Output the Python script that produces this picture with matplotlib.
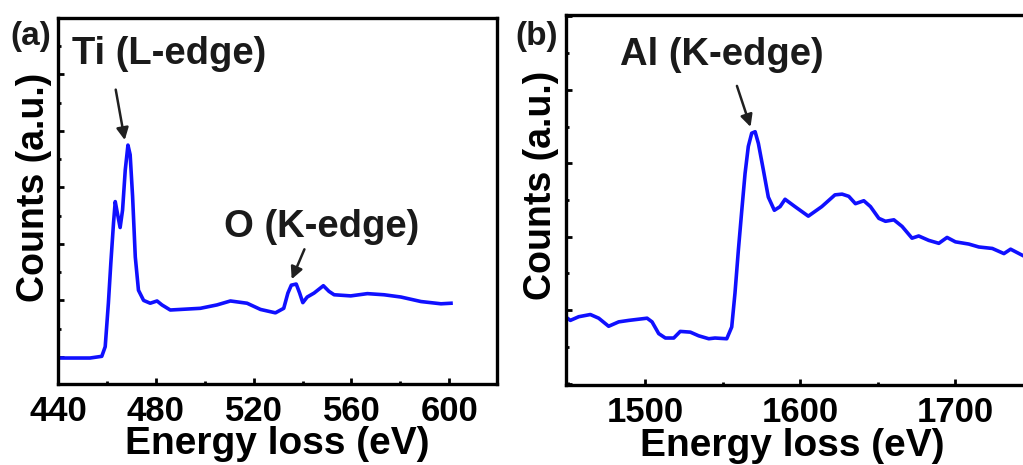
import matplotlib
matplotlib.use("Agg")
import matplotlib.pyplot as plt
from matplotlib.ticker import MultipleLocator

plt.rcParams['font.family'] = ['Liberation Sans', 'DejaVu Sans']
plt.rcParams['font.weight'] = 'bold'

# (a) Ti L-edge / O K-edge spectrum
ti_energy = [440.1, 453.1, 457.9, 459.3, 460.6, 461.6, 462.7, 463.4, 464.3, 465.4,
             466.4, 467.5, 468.6, 469.5, 470.5, 471.6, 472.9, 475.0, 477.7, 480.5,
             482.5, 485.9, 490.0, 498.2, 505.0, 510.5, 517.3, 522.8, 528.9, 532.3,
             534.0, 535.4, 537.4, 538.8, 540.1, 541.9, 544.7, 548.5, 550.8, 552.9,
             559.7, 566.5, 573.3, 580.2, 588.4, 596.6, 600.7]
ti_counts = [-0.02, -0.02, 0.01, 0.18, 0.95, 1.66, 2.37, 2.75, 2.54, 2.29,
             2.60, 3.31, 3.75, 3.58, 2.84, 1.77, 1.18, 1.00, 0.95, 0.99,
             0.92, 0.83, 0.84, 0.86, 0.92, 0.99, 0.95, 0.84, 0.78, 0.86,
             1.13, 1.27, 1.29, 1.13, 0.96, 1.06, 1.13, 1.26, 1.16, 1.10,
             1.08, 1.12, 1.10, 1.06, 0.98, 0.94, 0.95]

# (b) Al K-edge spectrum
al_energy = [1448.6, 1451.8, 1457.2, 1464.7, 1470.1, 1476.5, 1483.0, 1489.5, 1501.3, 1504.5,
             1508.8, 1513.1, 1518.5, 1522.7, 1529.2, 1534.6, 1541.1, 1545.1, 1552.7, 1555.9,
             1558.0, 1560.2, 1562.4, 1564.5, 1566.6, 1568.8, 1571.0, 1573.1, 1576.3, 1579.5,
             1583.4, 1587.1, 1590.3, 1596.7, 1605.3, 1614.0, 1622.5, 1627.1, 1631.4, 1635.7,
             1641.1, 1645.4, 1650.8, 1655.1, 1660.5, 1665.8, 1672.2, 1676.5, 1683.0, 1689.5,
             1694.8, 1700.2, 1708.8, 1715.3, 1724.0, 1731.5, 1735.8, 1744.0, 1750.0]
al_counts = [-0.09, -0.14, -0.09, -0.06, -0.11, -0.22, -0.16, -0.14, -0.11, -0.16,
             -0.32, -0.38, -0.38, -0.29, -0.30, -0.35, -0.39, -0.38, -0.39, -0.23,
             0.23, 0.82, 1.36, 1.86, 2.23, 2.41, 2.43, 2.27, 1.91, 1.54,
             1.36, 1.41, 1.51, 1.41, 1.28, 1.41, 1.57, 1.58, 1.55, 1.45,
             1.49, 1.41, 1.25, 1.21, 1.23, 1.14, 0.98, 1.01, 0.95, 0.91,
             0.99, 0.93, 0.90, 0.86, 0.84, 0.77, 0.83, 0.74, 0.70]

W, H = 1023, 465
fig = plt.figure(figsize=(W / 100, H / 100), dpi=100)


def frac(left, top, right, bottom):
    return [left / W, 1 - bottom / H, (right - left) / W, (bottom - top) / H]


ax1 = fig.add_axes(frac(58, 18, 497, 384))
ax2 = fig.add_axes(frac(566, 15, 1032, 385))

line_color = '#1010ff'
ax1.plot(ti_energy, ti_counts, color=line_color, lw=2.6, solid_joinstyle='round')
ax2.plot(al_energy, al_counts, color=line_color, lw=2.6, solid_joinstyle='round')

ax1.set_xlim(440, 619.5)
ax1.set_ylim(-0.48, 6.0)
ax1.xaxis.set_major_locator(MultipleLocator(40))
ax1.xaxis.set_minor_locator(MultipleLocator(20))
ax1.yaxis.set_major_locator(MultipleLocator(1))
ax1.yaxis.set_minor_locator(MultipleLocator(0.5))

ax2.set_xlim(1449, 1749.6)
ax2.set_ylim(-1.02, 4.02)
ax2.xaxis.set_major_locator(MultipleLocator(100))
ax2.xaxis.set_minor_locator(MultipleLocator(50))
ax2.yaxis.set_major_locator(MultipleLocator(1))
ax2.yaxis.set_minor_locator(MultipleLocator(0.5))

for ax in (ax1, ax2):
    for sp in ax.spines.values():
        sp.set_linewidth(2.4)
    ax.tick_params(which='both', direction='in', width=2, labelsize=25,
                   top=False, right=False, pad=8)
    ax.tick_params(which='major', length=4.5)
    ax.tick_params(which='minor', length=2.5)
    ax.set_yticklabels([])
    for lbl in ax.get_xticklabels():
        lbl.set_fontweight('bold')
    ax.set_xlabel('Energy loss (eV)', fontsize=28, fontweight='bold')
    ax.set_ylabel('Counts (a.u.)', fontsize=27, fontweight='bold')

ax1.xaxis.set_label_coords(0.5, -0.115)
ax2.xaxis.set_label_coords(0.485, -0.117)
ax1.yaxis.set_label_coords(-0.014, 0.538)
ax2.yaxis.set_label_coords(-0.015, 0.54)

arrow = dict(arrowstyle='-|>', color='#202020', lw=1.8, mutation_scale=18)
ax1.annotate('', xy=(467.5, 3.79), xytext=(463.4, 4.78), arrowprops=arrow)
ax1.annotate('', xy=(535.1, 1.33), xytext=(541.2, 1.95), arrowprops=arrow)
ax2.annotate('', xy=(1568.6, 2.46), xytext=(1558.7, 3.09), arrowprops=arrow)

fig.text(169.5 / W, 1 - 54 / H, 'Ti (L-edge)', fontsize=27.5, fontweight='bold',
         ha='center', va='center', color='#1a1a1a')
fig.text(322 / W, 1 - 227 / H, 'O (K-edge)', fontsize=27.5, fontweight='bold',
         ha='center', va='center', color='#1a1a1a')
fig.text(722 / W, 1 - 55 / H, 'Al (K-edge)', fontsize=27.5, fontweight='bold',
         ha='center', va='center', color='#1a1a1a')
fig.text(31 / W, 1 - 37 / H, '(a)', fontsize=24, fontweight='bold',
         ha='center', va='center', color='#1a1a1a')
fig.text(537 / W, 1 - 37 / H, '(b)', fontsize=24, fontweight='bold',
         ha='center', va='center', color='#1a1a1a')

fig.savefig('out.png', dpi=100)
